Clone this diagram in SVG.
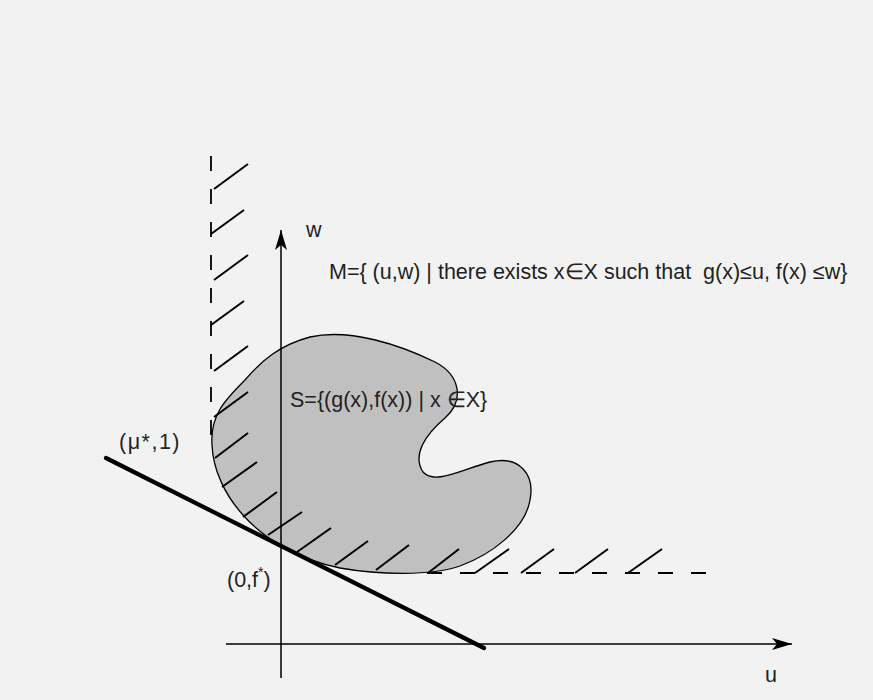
<svg xmlns="http://www.w3.org/2000/svg" width="873" height="700" viewBox="0 0 873 700">
<style>
.t{font-family:"Liberation Sans",Arial,sans-serif;font-size:21.5px;fill:#222}
.ax{stroke:#000;stroke-width:1.5;fill:none}
.h{stroke:#000;stroke-width:2;fill:none}
.d{stroke:#000;stroke-width:1.8;fill:none;stroke-dasharray:15 18}
</style>
<defs>
<marker id="ar" viewBox="0 0 20 12" refX="20" refY="6" markerWidth="20" markerHeight="12" markerUnits="userSpaceOnUse" orient="auto">
<path d="M0,0 L20,6 L0,12 L5,6 Z" fill="#000"/>
</marker>
</defs>
<rect width="873" height="700" fill="#f2f2f2"/>
<g id="set-S">
<path d="M 212,445 C 210,415 225,400 245,380 C 262,360 280,345 310,337 C 350,328 400,345 435,362 C 460,375 465,400 445,418 C 425,435 412,455 423,472 C 435,485 460,470 490,462 C 520,455 535,475 530,500 C 525,530 490,555 460,566 C 430,576 380,575 340,568 C 300,560 265,540 243,515 C 225,495 213,470 212,445 Z" fill="#c0c0c0" stroke="#000" stroke-width="1.3"/>
</g>
<g id="set-M">
<line class="d" x1="211" y1="156" x2="211" y2="440"/>
<line class="d" x1="427" y1="573" x2="707" y2="573"/>
<line class="h" x1="214" y1="189" x2="248" y2="164"/>
<line class="h" x1="211" y1="234" x2="244" y2="210"/>
<line class="h" x1="214" y1="280" x2="248" y2="255"/>
<line class="h" x1="211" y1="325" x2="244" y2="301"/>
<line class="h" x1="214" y1="371" x2="248" y2="346"/>
<line class="h" x1="214" y1="417" x2="248" y2="392"/>
<line class="h" x1="215" y1="458" x2="248" y2="433"/>
<line class="h" x1="222" y1="487" x2="257" y2="462"/>
<line class="h" x1="243" y1="517" x2="277" y2="492"/>
<line class="h" x1="268" y1="535" x2="302" y2="512"/>
<line class="h" x1="297" y1="552" x2="331" y2="528"/>
<line class="h" x1="335" y1="565" x2="368" y2="541"/>
<line class="h" x1="376" y1="570" x2="409" y2="545"/>
<line class="h" x1="428" y1="573" x2="459" y2="549"/>
<line class="h" x1="475" y1="573" x2="509" y2="549"/>
<line class="h" x1="521" y1="573" x2="554" y2="549"/>
<line class="h" x1="575" y1="573" x2="608" y2="549"/>
<line class="h" x1="628" y1="573" x2="662" y2="549"/>
</g>
<g id="connectors">
<line class="ax" x1="281" y1="678" x2="281" y2="230" marker-end="url(#ar)"/>
<line class="ax" x1="226" y1="644" x2="792" y2="644" marker-end="url(#ar)"/>
<line x1="106" y1="458" x2="484" y2="648" stroke="#000" stroke-width="4.2" stroke-linecap="round"/>
</g>
<g id="labels">
<text class="t" x="306" y="237">w</text>
<text class="t" x="329" y="279" xml:space="preserve">M={ (u,w) | there exists x∈X such that  g(x)≤u, f(x) ≤w}</text>
<text class="t" x="290" y="407">S={(g(x),f(x)) | x ∈X}</text>
<text class="t" x="119" y="449" letter-spacing="1.5">(μ*,1)</text>
<text class="t" x="227" y="587">(0,f<tspan font-size="14" dy="-10">*</tspan><tspan dy="10">)</tspan></text>
<text class="t" x="765" y="682">u</text>
</g>
</svg>
